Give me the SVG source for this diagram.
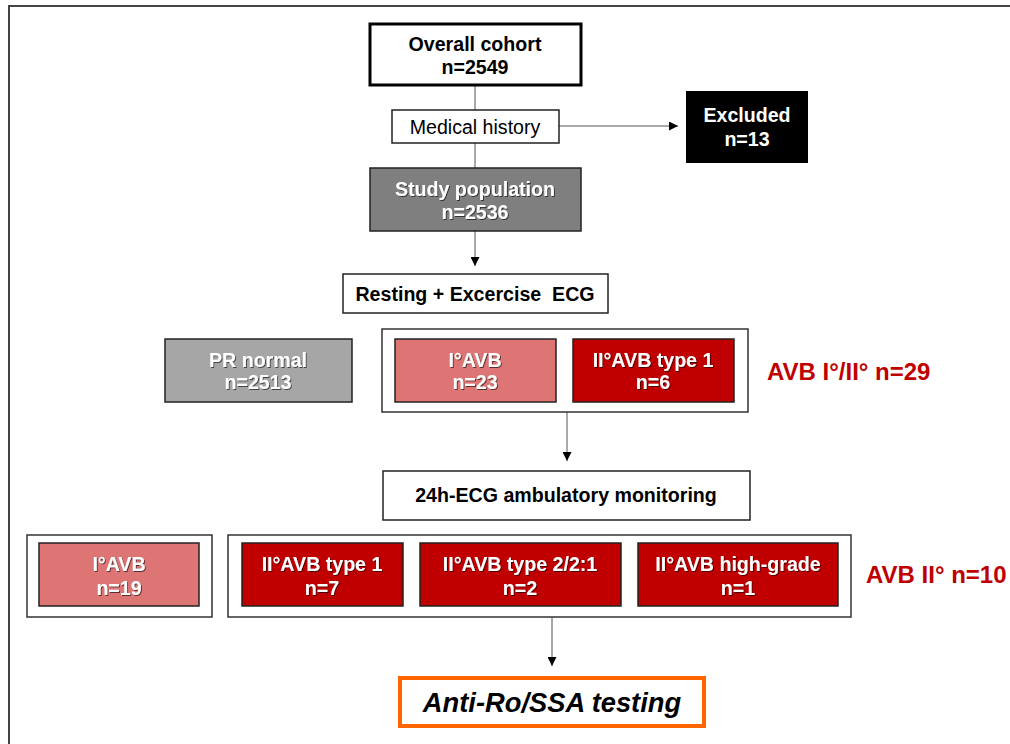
<svg xmlns="http://www.w3.org/2000/svg" width="1010" height="744" viewBox="0 0 1010 744">
  <defs>
    <marker id="arrow" viewBox="0 0 10 10" refX="10" refY="5" markerWidth="9" markerHeight="9" markerUnits="userSpaceOnUse" orient="auto">
      <path d="M0,0 L10,5 L0,10 Z" fill="#000"/>
    </marker>
    <filter id="shadow" x="-10%" y="-20%" width="120%" height="140%">
      <feDropShadow dx="1" dy="1" stdDeviation="0.6" flood-color="#000" flood-opacity="0.6"/>
    </filter>
  </defs>
  <style>
    text { font-family: "Liberation Sans", Arial, sans-serif; font-size: 19.6px; font-weight: bold; text-anchor: middle; white-space: pre; }
    .dark { fill: #000; }
    .light { fill: #fff; filter: url(#shadow); }
    .plain { font-weight: normal; }
    .red-label { fill: #c00000; font-size: 24px; text-anchor: start; }
    .frame { fill: none; stroke: #444; stroke-width: 2; }
    .wbox { fill: #fff; stroke: #222; stroke-width: 1.5; }
    .group { fill: #fff; stroke: #333; stroke-width: 1.5; }
    .inner { stroke: #222; stroke-width: 1.5; }
    .avb1 { fill: #de7575; }
    .avb2 { fill: #c00000; }
    .conn { stroke: #555; stroke-width: 1; fill: none; }
  </style>

  <rect class="frame" x="9" y="6" width="1100" height="800"/>

  <!-- connectors -->
  <g id="connectors">
    <line class="conn" x1="475" y1="85" x2="475" y2="110"/>
    <line class="conn" x1="475" y1="143" x2="475" y2="168"/>
    <line class="conn" x1="559" y1="126" x2="678" y2="126" marker-end="url(#arrow)"/>
    <line class="conn" x1="475" y1="231" x2="475" y2="266" marker-end="url(#arrow)"/>
    <line class="conn" x1="567" y1="412" x2="567" y2="461" marker-end="url(#arrow)"/>
    <line class="conn" x1="552" y1="617" x2="552" y2="666" marker-end="url(#arrow)"/>
  </g>

  <g id="overall-cohort">
    <rect x="370" y="24" width="211" height="61" fill="#fff" stroke="#000" stroke-width="3"/>
    <text class="dark" x="475" y="51">Overall cohort</text>
    <text class="dark" x="475" y="74">n=2549</text>
  </g>

  <g id="medical-history">
    <rect class="wbox" x="392" y="110" width="167" height="33"/>
    <text class="dark plain" x="475" y="134">Medical history</text>
  </g>

  <g id="excluded">
    <rect x="686" y="91" width="122" height="72" fill="#000"/>
    <text fill="#fff" x="747" y="122">Excluded</text>
    <text fill="#fff" x="747" y="146">n=13</text>
  </g>

  <g id="study-population">
    <rect class="inner" x="370" y="168" width="211" height="63" fill="#7f7f7f"/>
    <text class="light" x="475" y="196">Study population</text>
    <text class="light" x="475" y="219">n=2536</text>
  </g>

  <g id="resting-ecg">
    <rect class="wbox" x="343" y="274" width="265" height="39"/>
    <text class="dark" x="475" y="301">Resting + Excercise  ECG</text>
  </g>

  <g id="pr-normal">
    <rect class="inner" x="165" y="339" width="187" height="63" fill="#a6a6a6"/>
    <text class="light" x="258" y="367">PR normal</text>
    <text class="light" x="258" y="389">n=2513</text>
  </g>

  <g id="avb-first-group">
    <rect class="group" x="382" y="329" width="366" height="83"/>
    <rect class="inner avb1" x="395" y="339" width="161" height="63"/>
    <text class="light" x="475" y="367">I°AVB</text>
    <text class="light" x="475" y="389">n=23</text>
    <rect class="inner avb2" x="573" y="339" width="161" height="63"/>
    <text class="light" x="653" y="367">II°AVB type 1</text>
    <text class="light" x="653" y="389">n=6</text>
  </g>

  <g id="avb-first-total">
    <text class="red-label" x="767" y="380">AVB I°/II° n=29</text>
  </g>

  <g id="holter-ecg">
    <rect class="wbox" x="383" y="471" width="367" height="49"/>
    <text class="dark" x="566" y="502">24h-ECG ambulatory monitoring</text>
  </g>

  <g id="holter-first-degree">
    <rect class="group" x="27" y="535" width="185" height="82"/>
    <rect class="inner avb1" x="39" y="543" width="160" height="63"/>
    <text class="light" x="119" y="571">I°AVB</text>
    <text class="light" x="119" y="595">n=19</text>
  </g>

  <g id="holter-second-degree">
    <rect class="group" x="228" y="535" width="623" height="82"/>
    <rect class="inner avb2" x="242" y="543" width="161" height="63"/>
    <text class="light" x="322" y="571">II°AVB type 1</text>
    <text class="light" x="322" y="595">n=7</text>
    <rect class="inner avb2" x="420" y="543" width="201" height="63"/>
    <text class="light" x="520" y="571">II°AVB type 2/2:1</text>
    <text class="light" x="520" y="595">n=2</text>
    <rect class="inner avb2" x="638" y="543" width="200" height="63"/>
    <text class="light" x="738" y="571">II°AVB high-grade</text>
    <text class="light" x="738" y="595">n=1</text>
  </g>

  <g id="avb-second-total">
    <text class="red-label" x="866" y="583">AVB II° n=10</text>
  </g>

  <g id="anti-ro-testing">
    <rect x="400" y="678" width="304" height="48" fill="#fff" stroke="#ff6600" stroke-width="4"/>
    <text class="dark" x="552" y="712" style="font-size:27.3px; font-style:italic;">Anti-Ro/SSA testing</text>
  </g>
</svg>
